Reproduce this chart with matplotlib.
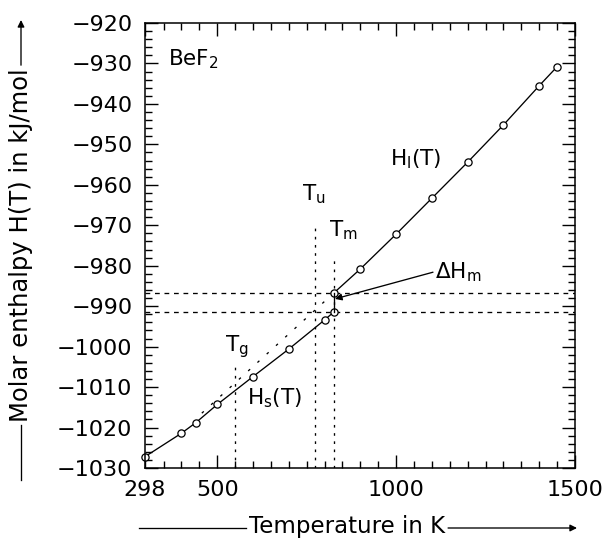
"""
Molar enthalpy H(T) of BeF2: solid, liquid and glass branches.
"""

import matplotlib
matplotlib.use("Agg")
import matplotlib.pyplot as plt
from matplotlib.lines import Line2D
import numpy as np

# solid branch H_s(T)
T_solid = [298, 400, 440, 500, 600, 700, 800, 825]
H_solid = [-1027.2, -1021.4, -1018.8, -1014.3, -1007.4, -1000.6, -993.4, -991.5]

# liquid branch H_l(T)
T_liquid = [825, 900, 1000, 1100, 1200, 1300, 1400, 1450]
H_liquid = [-986.8, -980.8, -972.2, -963.3, -954.4, -945.2, -935.5, -930.8]

# glass / supercooled liquid (dotted)
T_glass = [825, 450]
H_glass = [-986.8, -1017.0]

# characteristic temperatures and the top of their guide lines
T_g, T_u, T_m = 550, 773, 825
H_top_g, H_top_u, H_top_m = -1003.7, -970.0, -977.8

x_ticks = [298, 500, 1000, 1500]
x_minor = [t for t in range(350, 1500, 50) if t not in (500, 1000)]
y_ticks = list(range(-1030, -919, 10))
y_minor = list(range(-1030, -919, 2))

W, H = 606, 539
fig = plt.figure(figsize=(W / 100, H / 100), dpi=100)
ax = fig.add_axes([145 / W, 1 - 468 / H, 430 / W, 445 / H])

FS = 15.5
lw = 0.95

# guide lines
dash_v = (0, (2.0, 4.2))
dash_h = (0, (3.6, 3.6))
ax.plot([T_g, T_g], [-1030, H_top_g], color="k", lw=lw, ls=dash_v)
ax.plot([T_u, T_u], [-1030, H_top_u], color="k", lw=lw, ls=dash_v)
ax.plot([T_m, T_m], [-1030, H_top_m], color="k", lw=lw, ls=dash_v)
ax.axhline(H_liquid[0], color="k", lw=lw, ls=dash_h)
ax.axhline(H_solid[-1], color="k", lw=lw, ls=dash_h)
ax.plot(T_glass, H_glass, color="k", lw=lw, ls=(0, (2.0, 7.5)))

# data
mk = dict(marker="o", ms=5.2, mfc="white", mec="k", mew=0.9, clip_on=False)
ax.plot(T_solid, H_solid, color="k", lw=lw, **mk)
ax.plot(T_liquid, H_liquid, color="k", lw=lw, **mk)
ax.plot([T_m, T_m], [H_solid[-1], H_liquid[0]], color="k", lw=lw)

# annotations
ax.text(363, -930.4, "BeF$_2$", fontsize=FS, va="baseline")
ax.text(983, -955.3, r"H$_\mathrm{l}$(T)", fontsize=FS, va="baseline")
ax.text(584, -1014.4, r"H$_\mathrm{s}$(T)", fontsize=FS, va="baseline")
ax.text(736, -963.8, r"T$_\mathrm{u}$", fontsize=FS, va="baseline")
ax.text(813, -972.8, r"T$_\mathrm{m}$", fontsize=FS, va="baseline")
ax.text(521, -1001.3, r"T$_\mathrm{g}$", fontsize=FS, va="baseline")
ax.text(1108, -983.1, r"$\Delta$H$_\mathrm{m}$", fontsize=FS, va="baseline")
ax.annotate("", xy=(829, -988.2), xytext=(1103, -981.6),
            arrowprops=dict(arrowstyle="-|>", lw=lw, color="k",
                            mutation_scale=10, shrinkA=0, shrinkB=0))

ax.set_xlim(298, 1500)
ax.set_ylim(-1030, -920)
ax.set_xticks(x_ticks)
ax.set_xticks(x_minor, minor=True)
ax.set_yticks(y_ticks)
ax.set_yticks(y_minor, minor=True)
ax.tick_params(which="both", direction="in", top=True, right=True,
               width=1.0, labelsize=16)
ax.tick_params(which="major", length=9.4)
ax.tick_params(which="minor", length=5.0)
ax.tick_params(axis="x", pad=9)
ax.tick_params(axis="y", pad=9)
for s in ax.spines.values():
    s.set_linewidth(1.1)

# axis labels drawn with leading line and arrow
xl = fig.text(347 / W, 1 - 527 / H, "Temperature in K", fontsize=16.5,
              ha="center", va="center")
yl = fig.text(21 / W, 1 - 245 / H, "Molar enthalpy H(T) in kJ/mol", fontsize=17.5,
              ha="center", va="center", rotation=90)
fig.canvas.draw()
inv = fig.transFigure.inverted()
bx = inv.transform(xl.get_window_extent())
by = inv.transform(yl.get_window_extent())
gap = 3 / W
y_line = 1 - 528 / H
fig.add_artist(Line2D([139 / W, bx[0, 0] - gap], [y_line, y_line], color="k", lw=lw))
fig.add_artist(matplotlib.patches.FancyArrowPatch(
    (bx[1, 0] + gap, y_line), (577 / W, y_line), transform=fig.transFigure,
    arrowstyle="-|>", mutation_scale=10, lw=lw, color="k", shrinkA=0, shrinkB=0))
x_line = 21 / W
gapy = 3 / H
fig.add_artist(Line2D([x_line, x_line], [1 - 480 / H, by[0, 1] - gapy], color="k", lw=lw))
fig.add_artist(matplotlib.patches.FancyArrowPatch(
    (x_line, by[1, 1] + gapy), (x_line, 1 - 20 / H), transform=fig.transFigure,
    arrowstyle="-|>", mutation_scale=10, lw=lw, color="k", shrinkA=0, shrinkB=0))

fig.savefig("out.png", dpi=100)
